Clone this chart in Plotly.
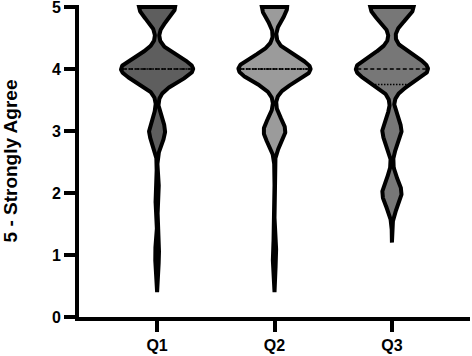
import numpy as np
import plotly.graph_objects as go

# ---- data ----
categories = ["Q1", "Q2", "Q3"]
levels = [1, 2, 3, 4, 5]                 # Likert levels (5 = Strongly Agree)
q1_counts = [1, 1, 4, 18, 9]             # number of responses per level
q2_counts = [1, 0, 6, 20, 7]
q3_counts = [0, 4, 4, 15, 9]
y_ticks = [0, 1, 2, 3, 4, 5]
y_title = "5 - Strongly Agree"

# ---- style ----
fills = ["#5e5e5e", "#9b9b9b", "#777777"]
bandwidths = [0.2, 0.2, 0.215]
span_low = [0.4, 0.4, 1.2]
span_high = 5.0
half_width = 0.307
FONT = "Liberation Sans, Arial, sans-serif"

counts_all = [q1_counts, q2_counts, q3_counts]

fig = go.Figure()
for i, (cat, counts) in enumerate(zip(categories, counts_all)):
    vals = np.repeat(levels, counts).astype(float)
    h = bandwidths[i]
    ys = np.linspace(span_low[i], span_high, 600)

    def kde(t, vals=vals, h=h):
        t = np.atleast_1d(t)
        return np.exp(-((t[:, None] - vals[None, :]) ** 2) / (2 * h * h)).sum(axis=1)

    dens = kde(ys)
    dmax = dens.max()
    hw = half_width * dens / dmax
    xs = np.concatenate([i + hw, (i - hw)[::-1], [i + hw[0]]])
    yy = np.concatenate([ys, ys[::-1], [ys[0]]])
    fig.add_trace(go.Scatter(x=xs, y=yy, mode="lines", fill="toself",
                             fillcolor=fills[i],
                             line=dict(color="black", width=4),
                             hoverinfo="skip", showlegend=False))
    # median and quartiles
    q25, q50, q75 = np.percentile(vals, [25, 50, 75])
    for q, dash in [(q50, "4px,2.5px"), (q25, "1.5px,1.5px"), (q75, "1.5px,1.5px")]:
        if q >= span_high - 1e-9:
            continue
        w = half_width * kde(q)[0] / dmax
        w = max(w - 0.012, 0)
        fig.add_trace(go.Scatter(x=[i - w, i + w], y=[q, q], mode="lines",
                                 line=dict(color="black", width=1.3, dash=dash),
                                 hoverinfo="skip", showlegend=False))

fig.update_layout(
    width=472, height=356,
    margin=dict(l=79, r=2, t=5, b=36),
    plot_bgcolor="white", paper_bgcolor="white",
    font=dict(family=FONT, color="black"),
)
fig.update_xaxes(
    range=[-0.665, 2.665], tickmode="array", tickvals=[0, 1, 2], ticktext=categories,
    showline=True, linecolor="black", linewidth=4,
    ticks="outside", ticklen=11, tickwidth=4, tickcolor="black",
    tickfont=dict(size=16, weight="bold", family=FONT),
    ticklabeloverflow="allow",
    showgrid=False, zeroline=False,
)
fig.update_yaxes(
    range=[0, 5.032], tickmode="array", tickvals=y_ticks,
    showline=True, linecolor="black", linewidth=4,
    ticks="outside", ticklen=11, tickwidth=4, tickcolor="black",
    tickfont=dict(size=16, weight="bold", family=FONT),
    ticklabeloverflow="allow",
    showgrid=False, zeroline=False,
    automargin=False,
    title=dict(text=y_title, font=dict(size=19, weight="bold", family=FONT), standoff=30),
)
fig.write_html("out.html", config={"displayModeBar": False},
               post_script="document.body.style.margin='0';")
